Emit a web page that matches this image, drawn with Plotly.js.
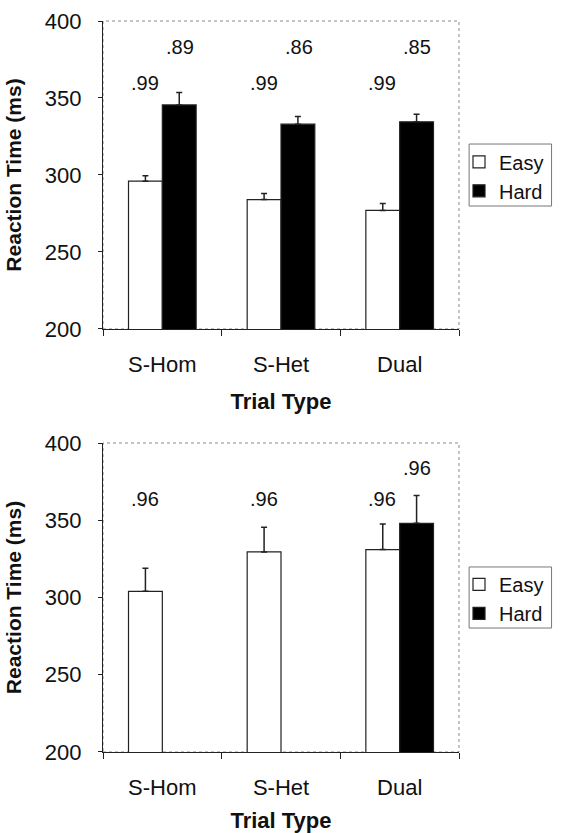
<!DOCTYPE html>
<html>
<head>
<meta charset="utf-8">
<script src="https://cdn.plot.ly/plotly-3.0.1.min.js"></script>
<style>
  html, body { margin: 0; padding: 0; background: #fff; overflow: hidden; }
  #chart { width: 561px; height: 833px; }
</style>
</head>
<body>
<div id="chart"></div>
<script>
// ---- data ----
const categories = ['S-Hom', 'S-Het', 'Dual'];
const seriesNames = ['Easy', 'Hard'];

// top panel
const topEasy = [296, 284, 277];
const topEasyErr = [3.5, 4, 4.5];
const topHard = [345.5, 333, 334.5];
const topHardErr = [8, 5, 5];
const topEasyAcc = ['.99', '.99', '.99'];
const topHardAcc = ['.89', '.86', '.85'];

// bottom panel
const botEasy = [304, 329.5, 331];
const botEasyErr = [15, 16, 16.5];
const botHard = [null, null, 348];
const botHardErr = [0, 0, 18];
const botEasyAcc = ['.96', '.96', '.96'];
const botHardAcc = ['', '', '.96'];

const yTickVals = [200, 250, 300, 350, 400];
const xTitle = 'Trial Type';
const yTitle = 'Reaction Time (ms)';

// ---- styling ----
const FONT = 'Liberation Sans, Arial, Helvetica, sans-serif';
const TXT = '#111';

function barTrace(y, err, name, fill, xa, ya, legend) {
  return {
    type: 'bar', x: categories, y: y, name: name,
    xaxis: xa, yaxis: ya, legend: legend, showlegend: true,
    marker: { color: fill, line: { color: '#222', width: 1.2 } },
    error_y: { type: 'data', array: err, symmetric: false,
               arrayminus: err.map(() => 0), color: '#222', thickness: 1.5, width: 3 },
    hoverinfo: 'skip'
  };
}

const data = [
  barTrace(topEasy, topEasyErr, seriesNames[0], '#ffffff', 'x', 'y', 'legend'),
  barTrace(topHard, topHardErr, seriesNames[1], '#000000', 'x', 'y', 'legend'),
  barTrace(botEasy, botEasyErr, seriesNames[0], '#ffffff', 'x2', 'y2', 'legend2'),
  barTrace(botHard, botHardErr, seriesNames[1], '#000000', 'x2', 'y2', 'legend2')
];

const annotations = [];
function addLabels(texts, yPos, shift, xref, yref) {
  texts.forEach((t, i) => {
    if (!t) return;
    annotations.push({
      x: categories[i], y: yPos, xref: xref, yref: yref, text: t,
      showarrow: false, xshift: shift,
      font: { family: FONT, size: 20, color: TXT }
    });
  });
}
addLabels(topEasyAcc, 360, -17.5, 'x', 'y');
addLabels(topHardAcc, 383, 17.5, 'x', 'y');
addLabels(botEasyAcc, 364, -17.5, 'x2', 'y2');
addLabels(botHardAcc, 384, 17.5, 'x2', 'y2');

function xAxis(anchor) {
  return {
    anchor: anchor, domain: [0, 1], type: 'category',
    showline: true, linecolor: '#222', linewidth: 1.2,
    ticks: 'outside', tickson: 'boundaries', ticklen: 6, tickcolor: '#222',
    showgrid: false, zeroline: false, ticklabelstandoff: 15,
    tickfont: { family: FONT, size: 22, color: TXT },
    title: { text: xTitle, standoff: 18, font: { family: FONT, size: 22, color: TXT, weight: 'bold' } },
    fixedrange: true
  };
}
function yAxis(anchor, domain) {
  return {
    anchor: anchor, domain: domain, range: [200, 400],
    tickvals: yTickVals, ticks: 'outside', ticklen: 4, tickcolor: '#222',
    showline: true, linecolor: '#222', linewidth: 1.2,
    showgrid: false, zeroline: false, ticklabelstandoff: 12,
    tickfont: { family: FONT, size: 22, color: TXT },
    title: { text: yTitle, standoff: 17, font: { family: FONT, size: 21, color: TXT, weight: 'bold' } },
    fixedrange: true
  };
}

const frame = (xr, yr) => ({
  type: 'rect', xref: xr + ' domain', yref: yr + ' domain',
  x0: 0, x1: 1, y0: 0, y1: 1, layer: 'below',
  line: { color: '#888', width: 1, dash: 'dot' }
});
const legendBox = (y0, y1) => ({
  type: 'rect', xref: 'paper', yref: 'paper',
  x0: 1.0284, x1: 1.26, y0: y0, y1: y1, layer: 'below',
  line: { color: '#777', width: 1 }
});

const legendStyle = (y) => ({
  x: 1.0, xanchor: 'left', y: y, yanchor: 'top',
  bgcolor: 'rgba(0,0,0,0)', borderwidth: 0,
  font: { family: FONT, size: 20, color: TXT },
  itemwidth: 30, tracegroupgap: 0
});

const layout = {
  width: 561, height: 833,
  margin: { l: 103, r: 88.5, t: 21, b: 81 },
  paper_bgcolor: '#fff', plot_bgcolor: '#fff',
  barmode: 'group', bargap: 0.43, bargroupgap: 0,
  xaxis: xAxis('y'),
  yaxis: yAxis('x', [0.5787, 1]),
  xaxis2: xAxis('y2'),
  yaxis2: yAxis('x2', [0, 0.4227]),
  legend: legendStyle(0.834),
  legend2: legendStyle(0.256),
  annotations: annotations,
  shapes: [frame('x', 'y'), frame('x2', 'y2'),
           legendBox(0.7469, 0.8317), legendBox(0.1696, 0.2531)],
  font: { family: FONT, color: TXT }
};

Plotly.newPlot('chart', data, layout, { displayModeBar: false, staticPlot: true });
</script>
</body>
</html>
